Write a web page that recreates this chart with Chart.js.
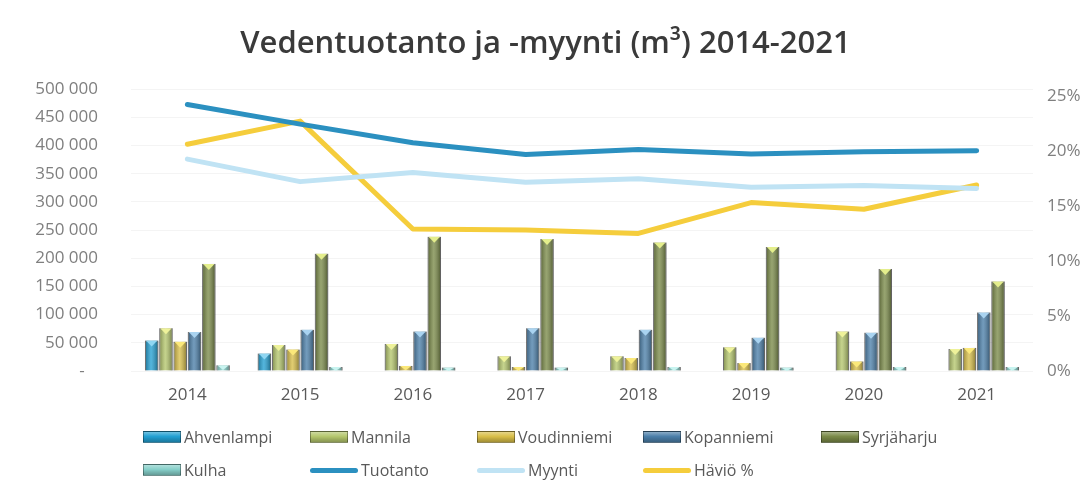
<!DOCTYPE html>
<html>
<head>
<meta charset="utf-8">
<script src="https://cdn.jsdelivr.net/npm/chart.js@4.4.1/dist/chart.umd.min.js"></script>
<style>
    html, body { margin: 0; padding: 0; background: #fff; }
    #wrap { position: relative; width: 1091px; height: 497px; }
    #legend {
        position: absolute; left: 143px; top: 426px;
        display: grid; grid-template-columns: 167px 167px 166px 178px 140px; row-gap: 11px;
        font: 16px "Open Sans", sans-serif; color: #595959;
    }
    .item { display: flex; align-items: center; height: 22px; white-space: nowrap; }
    .box { width: 36px; height: 10px; margin-right: 3px; border: 1px solid rgba(0,0,0,0.35); }
    .line { width: 48px; height: 5px; border-radius: 3px; margin-right: 3px; }
</style>
</head>
<body>
<div id="wrap">
    <canvas id="chart" width="1091" height="497"></canvas>
    <div id="legend"></div>
</div>
<script>
// values
const years = ['2014', '2015', '2016', '2017', '2018', '2019', '2020', '2021']
const ahvenlampi = [54000, 31000, null, null, null, null, null, null]
const mannila = [76000, 46000, 48000, 26000, 26000, 42000, 70000, 39000]
const voudinniemi = [52000, 38000, 9000, 7000, 23000, 14000, 17000, 41000]
const kopanniemi = [69000, 73000, 70000, 76000, 73000, 59000, 68000, 104000]
const syrjaharju = [190000, 208000, 238000, 234000, 228000, 220000, 181000, 159000]
const kulha = [10000, 7000, 6000, 6000, 7000, 6000, 7000, 7000]
const tuotanto = [473000, 438000, 405000, 384000, 393000, 385000, 389000, 391000]
const myynti = [376000, 336000, 352000, 335000, 341000, 326000, 329000, 324000]
const havio = [20.6, 22.7, 12.9, 12.8, 12.5, 15.3, 14.7, 16.9]
const leftTicks = [0, 50000, 100000, 150000, 200000, 250000, 300000, 350000, 400000, 450000, 500000]
const rightTicks = [0, 5, 10, 15, 20, 25]

const font = '"Open Sans", sans-serif'

const barSeries = [
    { label: 'Ahvenlampi', data: ahvenlampi, color: '#23a0d2', cap: '#8fd6f2' },
    { label: 'Mannila', data: mannila, color: '#b4c66c', cap: '#eef29a' },
    { label: 'Voudinniemi', data: voudinniemi, color: '#d8be48', cap: '#fbe87a' },
    { label: 'Kopanniemi', data: kopanniemi, color: '#4b7fa9', cap: '#a9d3f0' },
    { label: 'Syrjäharju', data: syrjaharju, color: '#7a8a48', cap: '#e4ee8c' },
    { label: 'Kulha', data: kulha, color: '#86cfc9', cap: '#c8f4f0' }
]
const lineSeries = [
    { label: 'Tuotanto', data: tuotanto, color: '#2b90c0', axis: 'y' },
    { label: 'Myynti', data: myynti, color: '#c0e3f4', axis: 'y' },
    { label: 'Häviö %', data: havio, color: '#f5cd3c', axis: 'y1' }
]

function spaced(v) {
    return String(v).replace(/\B(?=(\d{3})+(?!\d))/g, ' ')
}

// cylinder-ish shading on top of the flat bars
const barShade = {
    id: 'barShade',
    afterDatasetDraw(chart, args) {
        const meta = args.meta
        if (meta.type !== 'bar') return
        const { ctx } = chart
        const cap = barSeries[args.index].cap
        meta.data.forEach(bar => {
            const { x, y, base, width } = bar.getProps(['x', 'y', 'base', 'width'], true)
            if (!isFinite(y) || base - y < 1) return
            const left = x - width / 2
            const g = ctx.createLinearGradient(left, 0, left + width, 0)
            g.addColorStop(0, 'rgba(0,0,0,0.30)')
            g.addColorStop(0.45, 'rgba(255,255,255,0.22)')
            g.addColorStop(1, 'rgba(0,0,0,0.38)')
            ctx.save()
            ctx.fillStyle = g
            ctx.fillRect(left, y, width, base - y)
            const h = Math.min(4, (base - y) / 2)
            ctx.beginPath()
            ctx.moveTo(left + 1, y)
            ctx.lineTo(x, y + h + 2)
            ctx.lineTo(left + width - 1, y)
            ctx.closePath()
            ctx.fillStyle = cap
            ctx.fill()
            ctx.restore()
        })
    }
}

const datasets = []
barSeries.forEach(s => {
    datasets.push({
        type: 'bar',
        label: s.label,
        data: s.data,
        backgroundColor: s.color,
        borderColor: 'rgba(40,40,40,0.5)',
        borderWidth: 1,
        categoryPercentage: 0.76,
        barPercentage: 0.94,
        yAxisID: 'y',
        order: 2
    })
})
lineSeries.forEach(s => {
    datasets.push({
        type: 'line',
        label: s.label,
        data: s.data,
        borderColor: s.color,
        backgroundColor: s.color,
        borderWidth: 5,
        pointRadius: 0,
        tension: 0,
        borderCapStyle: 'round',
        borderJoinStyle: 'round',
        yAxisID: s.axis,
        order: 1
    })
})

const chart = new Chart(document.getElementById('chart'), {
    data: { labels: years, datasets },
    options: {
        responsive: false,
        animation: false,
        layout: { padding: { top: 10, left: 0, right: 0, bottom: 86 } },
        plugins: {
            legend: { display: false },
            tooltip: { enabled: false },
            title: {
                display: true,
                text: 'Vedentuotanto ja -myynti (m³) 2014-2021',
                color: '#3a3a3a',
                font: { family: font, size: 31, weight: '600' },
                padding: { top: 16, bottom: 26 }
            }
        },
        scales: {
            x: {
                grid: { display: false, drawTicks: false },
                border: { display: false },
                ticks: { color: '#595959', font: { family: font, size: 17 }, padding: 14 },
                afterFit: scale => { scale.height = 40 }
            },
            y: {
                position: 'left',
                min: 0,
                max: 500000,
                afterBuildTicks: scale => { scale.ticks = leftTicks.map(value => ({ value })) },
                grid: { color: '#f4f4f4', drawTicks: false },
                border: { display: false },
                ticks: {
                    color: '#7f7f7f',
                    font: { family: font, size: 17 },
                    padding: 33,
                    callback: v => v === 0 ? '-\u00a0\u00a0\u00a0' : spaced(v)
                },
                afterFit: scale => { scale.width = 131 }
            },
            y1: {
                position: 'right',
                min: 0,
                max: 25.6,
                afterBuildTicks: scale => { scale.ticks = rightTicks.map(value => ({ value })) },
                grid: { display: false, drawTicks: false },
                border: { display: false },
                ticks: {
                    color: '#7f7f7f',
                    font: { family: font, size: 17 },
                    padding: 14,
                    callback: v => v + '%'
                },
                afterFit: scale => { scale.width = 58 }
            }
        }
    },
    plugins: [barShade]
})

// legend laid out like the original grid
const legend = document.getElementById('legend')
const entries = barSeries.map(s => ({ label: s.label, color: s.color, kind: 'box' }))
    .concat(lineSeries.map(s => ({ label: s.label, color: s.color, kind: 'line' })))
entries.forEach(e => {
    const item = document.createElement('div')
    item.className = 'item'
    const mark = document.createElement('span')
    mark.className = e.kind
    if (e.kind === 'box') {
        mark.style.background = 'linear-gradient(to bottom, rgba(255,255,255,0.35), ' + e.color + ' 45%, rgba(0,0,0,0.25))'
        mark.style.backgroundColor = e.color
    } else {
        mark.style.background = e.color
    }
    const text = document.createElement('span')
    text.textContent = e.label
    item.append(mark, text)
    legend.append(item)
})
</script>
</body>
</html>
